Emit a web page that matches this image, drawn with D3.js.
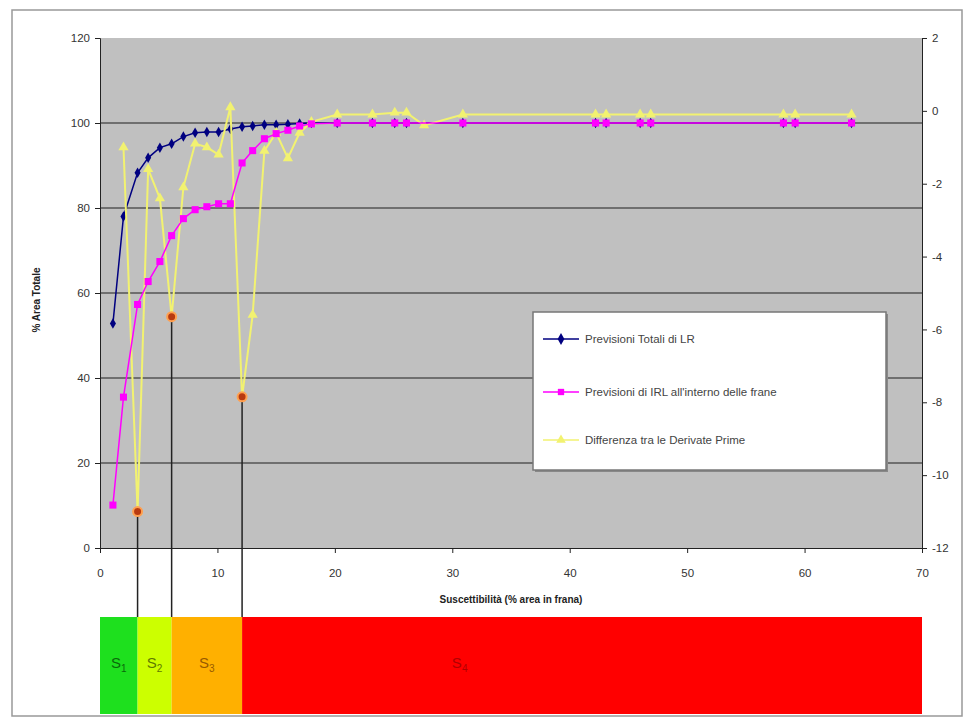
<!DOCTYPE html>
<html><head><meta charset="utf-8">
<script src="https://cdn.jsdelivr.net/npm/d3@7"></script>
<style>body{margin:0;background:#fff;}svg{display:block;font-family:"Liberation Sans",Arial,sans-serif;}</style>
</head><body>
<svg id="c" width="972" height="721"></svg>
<script>
// ---- data ----
const xVals = [1.1, 2.0, 3.2, 4.1, 5.1, 6.1, 7.1, 8.1, 9.1, 10.1, 11.1, 12.1, 13.0, 14.0, 15.0, 16.0, 17.0, 18.0, 20.2, 23.2, 25.1, 26.1, 30.9, 42.2, 43.1, 46.0, 46.9, 58.2, 59.2, 64.0];
const lrTotal = [52.8, 78.0, 88.3, 91.8, 94.2, 95.1, 96.8, 97.7, 97.9, 97.9, 98.6, 99.1, 99.3, 99.6, 99.6, 99.7, 99.9, 100, 100, 100, 100, 100, 100, 100, 100, 100, 100, 100, 100, 100];
const irlFrane = [10.1, 35.5, 57.3, 62.7, 67.4, 73.5, 77.5, 79.6, 80.3, 81.0, 81.0, 90.6, 93.5, 96.3, 97.5, 98.3, 99.3, 99.8, 100, 100, 100, 100, 100, 100, 100, 100, 100, 100, 100, 100];
const xDiff = [2.0, 3.2, 4.1, 5.1, 6.1, 7.1, 8.1, 9.1, 10.1, 11.1, 12.1, 13.0, 14.0, 15.0, 16.0, 17.0, 18.0, 20.2, 23.2, 25.1, 26.1, 27.6, 30.9, 42.2, 43.1, 46.0, 46.9, 58.2, 59.2, 64.0];
const diffDeriv = [-1.0, -11.0, -1.6, -2.4, -5.65, -2.1, -0.9, -1.0, -1.2, 0.1, -7.85, -5.6, -1.1, -0.6, -1.3, -0.6, -0.3, -0.1, -0.1, -0.05, -0.05, -0.4, -0.1, -0.1, -0.1, -0.1, -0.1, -0.1, -0.1, -0.1];
const thresholdX = [3.2, 6.1, 12.1];
const thresholdY = [-11.0, -5.65, -7.85];
const classLabels = ["S", "S", "S", "S"];
const classSubs = ["1", "2", "3", "4"];
const classColors = ["#1ee01e", "#ccff00", "#ffb000", "#ff0000"];
const classText = ["#0a6a0a", "#5f7a00", "#985a00", "#b00000"];
const leftTicks = [0, 20, 40, 60, 80, 100, 120];
const rightTicks = [2, 0, -2, -4, -6, -8, -10, -12];
const xTicks = [0, 10, 20, 30, 40, 50, 60, 70];
const legendLabels = ["Previsioni Totali di LR", "Previsioni di IRL all'interno delle frane", "Differenza tra le Derivate Prime"];
const xTitle = "Suscettibilità (% area in frana)";
const yTitle = "% Area Totale";

// ---- drawing ----
const svg = d3.select("#c");
const L = 100, R = 922, T = 38, B = 548;
const x = d3.scaleLinear([0, 70], [L, R]);
const yL = d3.scaleLinear([0, 120], [B, T]);
const yR = d3.scaleLinear([-12, 2], [B, T]);

svg.append("rect").attr("x", 12).attr("y", 10).attr("width", 950).attr("height", 706)
  .attr("fill", "#fff").attr("stroke", "#999").attr("stroke-width", 1.5);

svg.append("rect").attr("x", L).attr("y", T).attr("width", R - L).attr("height", B - T).attr("fill", "#c0c0c0");

// gridlines
svg.append("g").selectAll("line").data(leftTicks.filter(d => d > 0 && d < 120)).join("line")
  .attr("x1", L).attr("x2", R).attr("y1", d => yL(d)).attr("y2", d => yL(d))
  .attr("stroke", "#555").attr("stroke-width", 1.5);

// axes
const gl = svg.append("g").attr("transform", `translate(${L},0)`)
  .call(d3.axisLeft(yL).tickValues(leftTicks).tickSize(5).tickPadding(5));
const gr = svg.append("g").attr("transform", `translate(${R},0)`)
  .call(d3.axisRight(yR).tickValues(rightTicks).tickSize(5).tickPadding(5).tickFormat(d3.format("d")));
const gx = svg.append("g").attr("transform", `translate(0,${B})`)
  .call(d3.axisBottom(x).tickValues(xTicks).tickSize(5).tickPadding(16));
[gl, gr, gx].forEach(g => {
  g.selectAll("text").attr("font-size", 11.5).attr("fill", "#333").attr("font-family", "Liberation Sans, Arial, sans-serif");
  g.selectAll("line,path").attr("stroke", "#222");
});
gr.selectAll("text").text(d => d < 0 ? "-" + Math.abs(d) : d);

// titles
svg.append("text").attr("x", 511).attr("y", 603).attr("text-anchor", "middle")
  .attr("font-size", 10).attr("font-weight", "bold").attr("fill", "#222").text(xTitle);
svg.append("text").attr("transform", "translate(40,300) rotate(-90)").attr("text-anchor", "middle")
  .attr("font-size", 10).attr("font-weight", "bold").attr("fill", "#222").text(yTitle);

// class bar
const bounds = [0, ...thresholdX, 70];
const barTop = 617, barBot = 714;
const cls = svg.append("g");
classColors.forEach((c, i) => {
  cls.append("rect").attr("x", x(bounds[i])).attr("y", barTop)
    .attr("width", x(bounds[i + 1]) - x(bounds[i])).attr("height", barBot - barTop).attr("fill", c);
  // last label sits left of the red block's centre, as in the original
  const cx = i < 3 ? (x(bounds[i]) + x(bounds[i + 1])) / 2 : x(bounds[i]) + (x(bounds[i + 1]) - x(bounds[i])) * 0.32;
  const t = cls.append("text").attr("x", cx).attr("y", 668)
    .attr("text-anchor", "middle").attr("font-size", 15).attr("fill", classText[i]);
  t.append("tspan").text(classLabels[i]);
  t.append("tspan").attr("font-size", 10).attr("dy", 4).text(classSubs[i]);
});

// threshold drop lines
svg.append("g").selectAll("line").data(thresholdX).join("line")
  .attr("x1", d => x(d)).attr("x2", d => x(d))
  .attr("y1", (d, i) => yR(thresholdY[i])).attr("y2", barTop)
  .attr("stroke", "#222").attr("stroke-width", 1.5);

// series
const lrData = xVals.map((v, i) => [v, lrTotal[i]]);
const irlData = xVals.map((v, i) => [v, irlFrane[i]]);
const diffData = xDiff.map((v, i) => [v, diffDeriv[i]]);
const lineL = d3.line().x(d => x(d[0])).y(d => yL(d[1]));
const lineR = d3.line().x(d => x(d[0])).y(d => yR(d[1]));

svg.append("path").datum(lrData).attr("d", lineL).attr("fill", "none").attr("stroke", "#000080").attr("stroke-width", 1.5);
svg.append("g").selectAll("path").data(lrData).join("path")
  .attr("transform", d => `translate(${x(d[0])},${yL(d[1])})`)
  .attr("d", d3.symbol(d3.symbolDiamond, 32)).attr("fill", "#000080");

svg.append("path").datum(diffData).attr("d", lineR).attr("fill", "none").attr("stroke", "#f2f270").attr("stroke-width", 2);
svg.append("g").selectAll("path").data(diffData).join("path")
  .attr("transform", d => `translate(${x(d[0])},${yR(d[1])})`)
  .attr("d", d3.symbol(d3.symbolTriangle, 45)).attr("fill", "#f2f270");

svg.append("path").datum(irlData).attr("d", lineL).attr("fill", "none").attr("stroke", "#ff00ff").attr("stroke-width", 1.5);
svg.append("g").selectAll("path").data(irlData).join("path")
  .attr("transform", d => `translate(${x(d[0])},${yL(d[1])})`)
  .attr("d", d3.symbol(d3.symbolSquare, 50)).attr("fill", "#ff00ff");

// threshold markers
svg.append("g").selectAll("circle").data(thresholdX).join("circle")
  .attr("cx", d => x(d)).attr("cy", (d, i) => yR(thresholdY[i])).attr("r", 4.5)
  .attr("fill", "#b83a10").attr("stroke", "#ffa050").attr("stroke-width", 2);

// legend
const lg = svg.append("g").attr("transform", "translate(533,312)");
lg.append("rect").attr("x", 2).attr("y", 2).attr("width", 353).attr("height", 158).attr("fill", "#888");
lg.append("rect").attr("width", 353).attr("height", 158).attr("fill", "#fff").attr("stroke", "#777").attr("stroke-width", 1.5);
const legColors = ["#000080", "#ff00ff", "#f2f270"];
const legSyms = [d3.symbolDiamond, d3.symbolSquare, d3.symbolTriangle];
const legY = [27, 80, 128];
legendLabels.forEach((t, i) => {
  lg.append("line").attr("x1", 10).attr("x2", 46).attr("y1", legY[i]).attr("y2", legY[i]).attr("stroke", legColors[i]).attr("stroke-width", 1.5);
  lg.append("path").attr("transform", `translate(28,${legY[i]})`).attr("d", d3.symbol(legSyms[i], 40)).attr("fill", legColors[i]);
  lg.append("text").attr("x", 52).attr("y", legY[i] + 4).attr("font-size", 11.5).attr("fill", "#444").text(t);
});
</script>
</body></html>
